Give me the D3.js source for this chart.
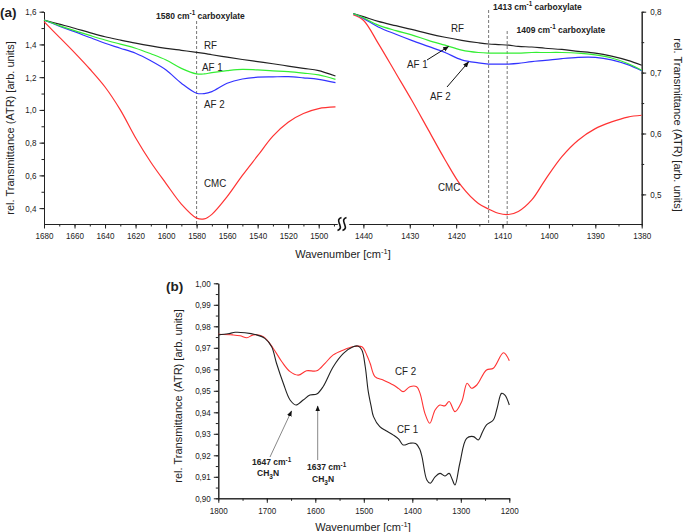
<!DOCTYPE html>
<html><head><meta charset="utf-8">
<script src="https://cdnjs.cloudflare.com/ajax/libs/d3/7.8.5/d3.min.js"></script>
<style>
body{margin:0;background:#fff;}
svg{font-family:"Liberation Sans",Arial,sans-serif;}
.tick text{font-size:9.5px;fill:#222;transform-box:fill-box;transform-origin:center;transform:scaleX(0.85);}
.yl .tick text{transform-origin:right center;}
.yr .tick text{transform-origin:left center;}
.domain,.tick line{stroke:#222;}
.cl{transform-box:fill-box;transform-origin:left center;transform:scaleX(0.85);}
</style></head><body>
<svg id="c" width="685" height="532"></svg>
<script>
// ---------- Data: panel (a), left segment (1680–1488 cm-1) ----------
const wnA1 = [1680,1670,1660,1650,1640,1630,1620,1610,1600,1590,1580,1575,1570,1560,1550,1540,1530,1520,1510,1500,1489];
const rfA1  = [1.549,1.524,1.499,1.472,1.447,1.427,1.408,1.391,1.376,1.364,1.352,1.345,1.337,1.322,1.308,1.295,1.282,1.268,1.254,1.240,1.207];
const af1A1 = [1.549,1.515,1.484,1.455,1.427,1.402,1.377,1.343,1.305,1.254,1.220,1.220,1.228,1.240,1.248,1.244,1.239,1.234,1.225,1.214,1.187];
const af2A1 = [1.549,1.512,1.478,1.442,1.407,1.377,1.346,1.300,1.244,1.163,1.102,1.100,1.112,1.163,1.189,1.200,1.202,1.203,1.196,1.187,1.167];
const cmcA1 = [1.539,1.445,1.350,1.250,1.140,1.000,0.830,0.680,0.550,0.425,0.339,0.334,0.362,0.470,0.600,0.720,0.840,0.925,0.978,1.008,1.018];
// ---------- Data: panel (a), right segment (1442–1380 cm-1) ----------
const wnA2 = [1442.2,1440,1436.8,1433,1429.6,1426,1422.4,1418.8,1415.2,1413,1410.9,1408.7,1406.6,1403.7,1400.8,1397.2,1393.7,1390,1386.5,1383,1380];
const rfA2  = [0.797,0.792,0.784,0.777,0.771,0.764,0.758,0.753,0.749,0.747,0.746,0.745,0.743,0.742,0.740,0.738,0.735,0.732,0.727,0.720,0.712];
const af1A2 = [0.797,0.790,0.778,0.769,0.762,0.753,0.745,0.737,0.733,0.732,0.732,0.732,0.732,0.733,0.733,0.733,0.732,0.729,0.724,0.715,0.704];
const af2A2 = [0.797,0.789,0.775,0.763,0.753,0.743,0.733,0.721,0.716,0.714,0.714,0.714,0.715,0.718,0.720,0.723,0.725,0.725,0.721,0.713,0.703];
const cmcA2 = [0.795,0.786,0.748,0.699,0.655,0.606,0.557,0.513,0.485,0.476,0.469,0.467,0.472,0.491,0.524,0.562,0.589,0.608,0.619,0.627,0.630];
// ---------- Data: panel (b) ----------
const wnCF1 = [1800,1780,1765,1745,1721,1704,1690,1680,1666,1652,1640,1625,1611,1597,1584,1563,1542,1522,1512,1504,1497,1491,1485,1480,1467,1455,1439,1428,1419,1405,1393,1385,1380,1370,1363,1353,1343,1333,1324,1318,1312,1302,1288,1274,1264,1255,1247,1233,1225,1216,1209,1200];
const cf1   = [0.9760,0.9765,0.9772,0.9770,0.9760,0.9744,0.9705,0.9628,0.9535,0.9457,0.9434,0.9457,0.9480,0.9485,0.9519,0.9612,0.9674,0.9705,0.9708,0.9690,0.9612,0.9500,0.9430,0.9380,0.9333,0.9315,0.9294,0.9275,0.9248,0.9256,0.9255,0.9230,0.9193,0.9085,0.9070,0.9100,0.9116,0.9104,0.9116,0.9090,0.9062,0.9163,0.9279,0.9287,0.9271,0.9310,0.9341,0.9364,0.9420,0.9488,0.9480,0.9434];
const wnCF2 = [1800,1770,1755,1741,1728,1707,1687,1669,1652,1635,1618,1597,1580,1563,1542,1522,1504,1494,1487,1477,1460,1439,1428,1419,1405,1391,1384,1374,1364,1353,1343,1333,1324,1312,1298,1287,1278,1267,1247,1233,1212,1200];
const cf2   = [0.9763,0.9760,0.9756,0.9747,0.9760,0.9752,0.9698,0.9635,0.9589,0.9573,0.9593,0.9593,0.9628,0.9667,0.9690,0.9705,0.9705,0.9667,0.9628,0.9566,0.9550,0.9527,0.9510,0.9496,0.9519,0.9519,0.9488,0.9395,0.9349,0.9411,0.9434,0.9430,0.9450,0.9403,0.9450,0.9535,0.9512,0.9527,0.9597,0.9605,0.9677,0.9640];
const tickXA1 = [1680,1660,1640,1620,1600,1580,1560,1540,1520,1500];
const tickXA2 = [1440,1430,1420,1410,1400,1390,1380];
const tickYA1 = [0.4,0.6,0.8,1.0,1.2,1.4,1.6];
const tickYA2 = [0.5,0.6,0.7,0.8];
const tickXB = [1800,1700,1600,1500,1400,1300,1200];
const tickYB = [0.90,0.91,0.92,0.93,0.94,0.95,0.96,0.97,0.98,0.99,1.00];

const colors = {RF:"#222222", AF1:"#33ee33", AF2:"#3333ff", CMC:"#ff3333"};
const fmt1 = d3.format(".1f"), fmt2 = d3.format(".2f"), fmtI = d3.format("d");
const comma = f => d => f(d).replace(".", ",");

const svg = d3.select("#c");
const defs = svg.append("defs");
function marker(id, col){
  defs.append("marker").attr("id",id).attr("viewBox","0 0 10 10").attr("refX",9).attr("refY",5)
    .attr("markerWidth",6).attr("markerHeight",6).attr("orient","auto")
    .append("path").attr("d","M0,1 L10,5 L0,9 Z").attr("fill",col);
}
marker("arrB","#111");

// ---------- Panel (a) scales ----------
const xA1 = d3.scaleLinear().domain([1680,1488]).range([44,337]);
const xA2 = d3.scaleLinear().domain([1443.1,1380]).range([349,641.7]);
const yA1 = d3.scaleLinear().domain([0.303,1.6]).range([224,11.7]);
const yA2 = d3.scaleLinear().domain([0.4514,0.8]).range([224,11.7]);

function axisG(tr,cls){ return svg.append("g").attr("class",cls||"").attr("transform",tr); }
axisG("translate(0,224)").call(d3.axisBottom(xA1).tickValues(d3.range(1680,1487,-10)).tickSize(2.5).tickFormat("").tickSizeOuter(0));
axisG("translate(0,224)").call(d3.axisBottom(xA1).tickValues(tickXA1).tickSize(4.5).tickSizeOuter(0).tickFormat(fmtI).tickPadding(4));
axisG("translate(0,224)").call(d3.axisBottom(xA2).tickValues(d3.range(1440,1379,-5)).tickSize(2.5).tickFormat("").tickSizeOuter(0));
axisG("translate(0,224)").call(d3.axisBottom(xA2).tickValues(tickXA2).tickSize(4.5).tickSizeOuter(0).tickFormat(fmtI).tickPadding(4));
axisG("translate(44,0)").call(d3.axisLeft(yA1).tickValues(d3.range(0.4,1.61,0.1)).tickSize(2.5).tickFormat("").tickSizeOuter(0));
axisG("translate(44,0)","yl").call(d3.axisLeft(yA1).tickValues(tickYA1).tickSize(4.5).tickSizeOuter(0).tickFormat(comma(fmt1)).tickPadding(3));
axisG("translate(641.7,0)").call(d3.axisRight(yA2).tickValues([0.5,0.55,0.6,0.65,0.7,0.75,0.8]).tickSize(2.5).tickFormat("").tickSizeOuter(0));
axisG("translate(641.7,0)","yr").call(d3.axisRight(yA2).tickValues(tickYA2).tickSize(4.5).tickSizeOuter(0).tickFormat(comma(fmt1)).tickPadding(4));

// axis break symbol
[339.5,344.5].forEach(x=>{
  svg.append("path").attr("d",`M${x+2},217.5 C${x-2},219 ${x-1},221 ${x},224 C${x+1},227 ${x+2},229 ${x-2},230.5`)
    .attr("fill","none").attr("stroke","#111").attr("stroke-width",1.6);
});

function vdash(x,y0){ svg.append("line").attr("x1",x).attr("x2",x).attr("y1",y0).attr("y2",224)
  .attr("stroke","#777").attr("stroke-width",1).attr("stroke-dasharray","3,2"); }
vdash(xA1(1580),21); vdash(xA2(1413),10); vdash(xA2(1409),31);

function drawLine(xs, ys, xsc, ysc, col, w){
  const pts = xs.map((x,i)=>[xsc(x), ysc(ys[i])]);
  svg.append("path").attr("d", d3.line().curve(d3.curveCatmullRom.alpha(0.5))(pts))
    .attr("fill","none").attr("stroke",col).attr("stroke-width",w||1.2);
}
drawLine(wnA1, cmcA1, xA1, yA1, colors.CMC);
drawLine(wnA1, rfA1, xA1, yA1, colors.RF);
drawLine(wnA1, af2A1, xA1, yA1, colors.AF2);
drawLine(wnA1, af1A1, xA1, yA1, colors.AF1);
drawLine(wnA2, cmcA2, xA2, yA2, colors.CMC);
drawLine(wnA2, rfA2, xA2, yA2, colors.RF);
drawLine(wnA2, af2A2, xA2, yA2, colors.AF2);
drawLine(wnA2, af1A2, xA2, yA2, colors.AF1);

function txt(x,y,s,opt){
  opt=opt||{};
  return svg.append("text").attr("x",x).attr("y",y).text(s).attr("class",opt.plain?"":"cl")
    .attr("font-size",opt.size||11.5).attr("font-weight",opt.bold?"bold":"normal")
    .attr("text-anchor","start").attr("fill","#222");
}
function annot(x,y,num,rest,size){
  const t = svg.append("text").attr("x",x).attr("y",y).attr("font-size",size).attr("font-weight","bold").attr("fill","#222");
  t.append("tspan").text(num+" cm");
  t.append("tspan").attr("dy",-3.5).attr("font-size",size*0.75).text("-1");
  if(rest) t.append("tspan").attr("dy",3.5).text(" "+rest);
  return t;
}
txt(0,17,"(a)",{bold:true,size:13.5,plain:true});
txt(204,49,"RF"); txt(202,71,"AF 1"); txt(204,108,"AF 2"); txt(204,187,"CMC");
txt(451,32.5,"RF"); txt(407,68.5,"AF 1"); txt(430,100,"AF 2"); txt(438,191,"CMC");
annot(156,18.5,"1580","carboxylate",8.5);
annot(493,9.5,"1413","carboxylate",8.5);
annot(516.5,32.5,"1409","carboxylate",8.5);

function arrow(x1,y1,x2,y2,col){
  svg.append("line").attr("x1",x1).attr("y1",y1).attr("x2",x2).attr("y2",y2)
    .attr("stroke",col).attr("stroke-width",1).attr("marker-end","url(#arrB)");
}
arrow(427,60,448.5,46.5,"#111");
arrow(447,87,468.5,62,"#111");

function xtitle(x,y){
  const t = svg.append("text").attr("x",x).attr("y",y).attr("text-anchor","middle").attr("font-size",11).attr("fill","#222");
  t.append("tspan").text("Wavenumber [cm");
  t.append("tspan").attr("dy",-4).attr("font-size",7.5).text("-1");
  t.append("tspan").attr("dy",4).text("]");
}
xtitle(343,258);
svg.append("text").attr("transform","translate(14,128) rotate(-90)").attr("text-anchor","middle")
  .attr("font-size",11).attr("fill","#222").text("rel. Transmittance (ATR) [arb. units]");
svg.append("text").attr("transform","translate(674,125) rotate(90)").attr("text-anchor","middle")
  .attr("font-size",11).attr("fill","#222").text("rel. Transmittance (ATR) [arb. units]");

// ---------- Panel (b) ----------
const xB = d3.scaleLinear().domain([1800,1200]).range([218.3,509.3]);
const yB = d3.scaleLinear().domain([0.90,1.00]).range([498.3,283.3]);
axisG("translate(0,498.3)").call(d3.axisBottom(xB).tickValues(d3.range(1800,1199,-50)).tickSize(2.5).tickFormat("").tickSizeOuter(0));
axisG("translate(0,498.3)").call(d3.axisBottom(xB).tickValues(tickXB).tickSize(4.5).tickSizeOuter(0).tickFormat(fmtI).tickPadding(4));
axisG("translate(218.3,0)").call(d3.axisLeft(yB).tickValues(d3.range(0,21).map(i=>0.9+i*0.005)).tickSize(2.5).tickFormat("").tickSizeOuter(0));
axisG("translate(218.3,0)","yl").call(d3.axisLeft(yB).tickValues(tickYB).tickSize(4.5).tickSizeOuter(0).tickFormat(comma(fmt2)).tickPadding(3));

drawLine(wnCF2, cf2, xB, yB, "#ff3333", 1.1);
drawLine(wnCF1, cf1, xB, yB, "#222222", 1.1);

txt(166,291,"(b)",{bold:true,size:13.5,plain:true});
txt(395,375,"CF 2"); txt(397,433,"CF 1");
arrow(270,457,291.5,411,"#888");
arrow(317.7,460,317.7,406,"#888");
annot(252,465,"1647","",8.5);
annot(307,470,"1637","",8.5);
function ch3n(x,y){
  const t = svg.append("text").attr("x",x).attr("y",y).attr("font-size",8.5).attr("font-weight","bold").attr("fill","#222");
  t.append("tspan").text("CH");
  t.append("tspan").attr("dy",2.5).attr("font-size",6.5).text("3");
  t.append("tspan").attr("dy",-2.5).text("N");
}
ch3n(257,476); ch3n(312,482);
xtitle(363,531);
svg.append("text").attr("transform","translate(182,396) rotate(-90)").attr("text-anchor","middle")
  .attr("font-size",11).attr("fill","#222").text("rel. Transmittance (ATR) [arb. units]");
</script></body></html>
